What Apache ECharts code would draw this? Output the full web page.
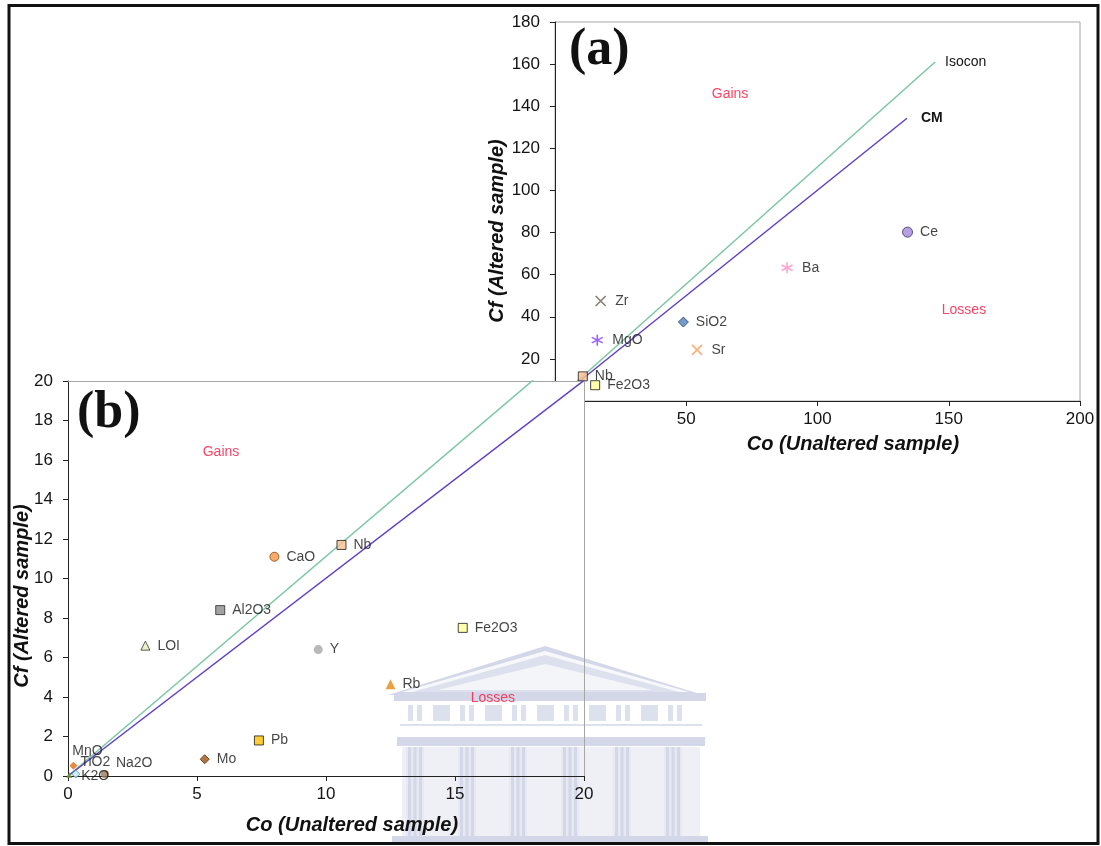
<!DOCTYPE html>
<html>
<head>
<meta charset="utf-8">
<script src="https://cdn.jsdelivr.net/npm/echarts@6/dist/echarts.min.js"></script>
<style>
  html, body { margin: 0; padding: 0; background: #fff; }
  #chart { width: 1101px; height: 846px; }
</style>
</head>
<body>
<div id="chart"></div>
<script>
// ---- Panel (a): full concentration range ----
const namesA = ['Nb', 'Fe2O3', 'MgO', 'Zr', 'SiO2', 'Sr', 'Ba', 'Ce'];
const coA    = [10.6, 15.3, 16.1, 17.4, 48.9, 54.1, 88.4, 134.3];
const cfA    = [11.7, 7.5, 28.9, 47.5, 37.5, 24.3, 63.3, 80.2];

// ---- Panel (b): low-concentration detail ----
const namesB = ['CaO', 'Nb', 'Al2O3', 'LOI', 'Y', 'Fe2O3', 'Rb', 'Pb', 'Mo', 'TiO2', 'MnO', 'K2O', 'Na2O'];
const coB    = [8.0, 10.6, 5.9, 3.0, 9.7, 15.3, 12.5, 7.4, 5.3, 0.21, 0.05, 0.3, 1.43];
const cfB    = [11.1, 11.7, 8.4, 6.6, 6.4, 7.5, 4.65, 1.8, 0.85, 0.52, 0.05, 0.1, 0.1];

// Reference lines through the origin (start and end points)
const isoconLine = [[0, 0], [144.8, 161]];
const cmLine     = [[0, 0], [134.1, 134.3]];

// Field annotations
const zoneNames = ['Gains', 'Losses'];
const zoneCoA = [66.7, 155.8];
const zoneCfA = [145.7, 43.3];
const zoneCoB = [5.93, 16.47];
const zoneCfB = [16.4, 3.95];

// Axis ticks
const xTicksA = [0, 50, 100, 150, 200];
const yTicksA = [0, 20, 40, 60, 80, 100, 120, 140, 160, 180];
const xTicksB = [0, 5, 10, 15, 20];
const yTicksB = [0, 2, 4, 6, 8, 10, 12, 14, 16, 18, 20];

// ---- marker styles ----
const X_PATH = 'path://M0,0L10,10M10,0L0,10';
const STAR_PATH = 'path://M5,0L5,10M0.67,2.5L9.33,7.5M0.67,7.5L9.33,2.5';

const styleA = {
  Nb:    { symbol: 'rect', size: 9, fill: '#fac08f', stroke: '#1a1a1a' },
  Fe2O3: { symbol: 'rect', size: 9, fill: '#ffff99', stroke: '#1a1a1a' },
  MgO:   { symbol: STAR_PATH, size: 11, line: '#7f3fff' },
  Zr:    { symbol: X_PATH, size: 10, line: '#6b5d55' },
  SiO2:  { symbol: 'diamond', size: 10, fill: '#4f81bd', stroke: '#24406a' },
  Sr:    { symbol: X_PATH, size: 10, line: '#ff9955' },
  Ba:    { symbol: STAR_PATH, size: 11, line: '#ff8fc4' },
  Ce:    { symbol: 'circle', size: 10, fill: '#a28ad8', stroke: '#3c2a6a' }
};

const styleB = {
  CaO:   { symbol: 'circle', size: 9, fill: '#f79646', stroke: '#8a4a10' },
  Nb:    { symbol: 'rect', size: 9, fill: '#fac08f', stroke: '#1a1a1a' },
  Al2O3: { symbol: 'rect', size: 9, fill: '#8c8c8c', stroke: '#2a2a2a' },
  LOI:   { symbol: 'triangle', size: 9, fill: '#e8efb8', stroke: '#333' },
  Y:     { symbol: 'circle', size: 9, fill: '#a6a6a6' },
  Fe2O3: { symbol: 'rect', size: 9, fill: '#ffff99', stroke: '#1a1a1a' },
  Rb:    { symbol: 'triangle', size: 10, fill: '#e38a17' },
  Pb:    { symbol: 'rect', size: 9, fill: '#ffc000', stroke: '#1a1a1a' },
  Mo:    { symbol: 'diamond', size: 9, fill: '#9c5514', stroke: '#5a2e08' },
  TiO2:  { symbol: 'diamond', size: 8, fill: '#e36c0a', label: { distance: 3, offset: [0, -4] } },
  MnO:   { symbol: 'triangle', size: 6, fill: '#77933c', label: { distance: 0, offset: [0, -24] } },
  K2O:   { symbol: 'diamond', size: 8, fill: '#c4ecf5', stroke: '#4a90a0', label: { distance: 1, offset: [0, 2] } },
  Na2O:  { symbol: 'circle', size: 8, fill: '#9a7b5a', label: { distance: 7, offset: [0, -11] } }
};

const FONT = 'Liberation Sans, Arial, sans-serif';
const TEXT = '#141414';
const RED = '#f5143f';
const FRAME_GREY = '#a6a6a6';

function buildItems(names, co, cf, styles) {
  return names.map((n, i) => {
    const s = styles[n];
    const item = { name: n, value: [co[i], cf[i]], symbol: s.symbol, symbolSize: s.size };
    if (s.line) {
      item.itemStyle = { color: 'none', borderColor: s.line, borderWidth: 1.6 };
    } else {
      item.itemStyle = { color: s.fill, borderColor: s.stroke || s.fill, borderWidth: s.stroke ? 1 : 0 };
    }
    if (s.label) item.label = s.label;
    return item;
  });
}

function zoneItems(co, cf) {
  return zoneNames.map((n, i) => ({ name: n, value: [co[i], cf[i]] }));
}

function axis(gridIndex, ticks, z, isX) {
  return {
    type: 'value',
    gridIndex: gridIndex,
    z: z,
    min: ticks[0],
    max: ticks[ticks.length - 1],
    interval: ticks[1] - ticks[0],
    axisLine: { show: true, onZero: false, lineStyle: { color: '#222', width: 1 } },
    axisTick: { show: true, inside: false, length: 5, lineStyle: { color: '#222' } },
    axisLabel: { fontFamily: FONT, fontSize: 17, color: TEXT, margin: isX ? 10 : 15 },
    splitLine: { show: false }
  };
}

// plain grey edge on the far side of panel (b), kept above the emblem
function edgeAxis(gridIndex, ticks, pos, z) {
  return {
    type: 'value', gridIndex: gridIndex, position: pos, z: z,
    min: ticks[0], max: ticks[ticks.length - 1],
    axisLine: { show: true, onZero: false, lineStyle: { color: FRAME_GREY, width: 1 } },
    axisTick: { show: false }, axisLabel: { show: false }, splitLine: { show: false }
  };
}

const pointLabel = {
  show: true, position: 'right', distance: 7, formatter: '{b}',
  fontFamily: FONT, fontSize: 14, color: TEXT
};

const zoneLabel = {
  show: true, position: 'inside', formatter: '{b}',
  fontFamily: FONT, fontSize: 14, color: RED
};

function refLine(data, color, z, gi, endText, dist, bold) {
  const s = {
    type: 'line', xAxisIndex: gi, yAxisIndex: gi, z: z, data: data,
    showSymbol: false, symbol: 'none', silent: true, clip: true,
    lineStyle: { color: color, width: 1.5 }, animation: false
  };
  if (endText) {
    s.endLabel = {
      show: true, formatter: endText, distance: dist,
      fontFamily: FONT, fontSize: 14, color: TEXT, fontWeight: bold ? 'bold' : 'normal'
    };
  }
  return s;
}

// ---- faint building emblem in the lower middle ----
function emblem() {
  const dark = '#d3d7e7', mid = '#dde0ed', light = '#eef0f6', colBg = '#e6e8f2';
  const els = [];
  const poly = (pts, fill) => els.push({ type: 'polygon', shape: { points: pts }, style: { fill: fill } });
  const rect = (x, y, w, h, fill) => els.push({ type: 'rect', shape: { x: x, y: y, width: w, height: h }, style: { fill: fill } });
  poly([[388, 695], [545, 646], [703, 695]], dark);
  poly([[402, 692], [545, 651], [689, 692]], '#f7f8fb');
  poly([[412, 692], [545, 655], [679, 692]], mid);
  poly([[438, 690], [545, 664], [652, 690]], '#f4f5f9');
  rect(394, 693, 312, 8, dark);
  for (let k = 0; k < 6; k++) {
    const x = 408 + 52 * k;
    rect(x, 705, 5, 16, mid);
    rect(x + 9, 705, 5, 16, mid);
    if (k < 5) rect(433 + 52 * k, 705, 17, 16, mid);
  }
  rect(400, 724, 302, 2, mid);
  rect(397, 737, 308, 9, dark);
  rect(402, 747, 298, 89, light);
  const cols = [415, 467, 518, 570, 622, 673];
  cols.forEach(cx => {
    rect(cx - 9, 747, 18, 89, colBg);
    rect(cx - 7, 747, 3, 89, dark);
    rect(cx - 1.5, 747, 3, 89, dark);
    rect(cx + 4, 747, 3, 89, dark);
  });
  rect(392, 836, 316, 8, dark);
  els.forEach(e => { e.z = 3.5; e.silent = true; });
  return els;
}

const titleFont = 'italic bold 20px ' + FONT;

const chart = echarts.init(document.getElementById('chart'), null, { renderer: 'canvas' });
chart.setOption({
  animation: false,
  backgroundColor: '#ffffff',
  grid: [
    { left: 555, top: 22, width: 525, height: 379, show: true, z: 0,
      backgroundColor: '#ffffff', borderColor: FRAME_GREY, borderWidth: 1 },
    { left: 68, top: 381, width: 516, height: 395, show: true, z: 3,
      backgroundColor: '#ffffff', borderWidth: 0 }
  ],
  xAxis: [axis(0, xTicksA, 1, true), axis(1, xTicksB, 4, true), edgeAxis(1, xTicksB, 'top', 4)],
  yAxis: [axis(0, yTicksA, 1, false), axis(1, yTicksB, 4, false), edgeAxis(1, yTicksB, 'right', 4)],
  series: [
    refLine(isoconLine, '#7cc6a4', 2, 0, 'Isocon', 10, false),
    refLine(cmLine, '#6040c8', 2, 0, 'CM', 14, true),
    { type: 'scatter', xAxisIndex: 0, yAxisIndex: 0, z: 2,
      data: buildItems(namesA, coA, cfA, styleA), label: pointLabel },
    { type: 'scatter', xAxisIndex: 0, yAxisIndex: 0, z: 2, symbolSize: 0,
      data: zoneItems(zoneCoA, zoneCfA), label: zoneLabel },

    refLine(isoconLine, '#7cc6a4', 5, 1, null),
    refLine(cmLine, '#6040c8', 5, 1, null),
    { type: 'scatter', xAxisIndex: 1, yAxisIndex: 1, z: 5,
      data: buildItems(namesB, coB, cfB, styleB), label: pointLabel },
    { type: 'scatter', xAxisIndex: 1, yAxisIndex: 1, z: 5, symbolSize: 0,
      data: zoneItems(zoneCoB, zoneCfB), label: zoneLabel }
  ],
  graphic: [
    { type: 'text', z: 6, x: 569, y: 51, silent: true,
      style: { text: '(a)', font: 'bold 52px Liberation Serif, Times New Roman, serif', fill: '#111',
               align: 'left', verticalAlign: 'middle' } },
    { type: 'text', z: 6, x: 77, y: 414, silent: true,
      style: { text: '(b)', font: 'bold 52px Liberation Serif, Times New Roman, serif', fill: '#111',
               align: 'left', verticalAlign: 'middle' } },
    { type: 'text', z: 6, x: 853, y: 444, silent: true,
      style: { text: 'Co (Unaltered sample)', font: titleFont, fill: '#111', align: 'center', verticalAlign: 'middle' } },
    { type: 'text', z: 6, x: 497, y: 231, rotation: Math.PI / 2, silent: true,
      style: { text: 'Cf (Altered sample)', font: titleFont, fill: '#111', align: 'center', verticalAlign: 'middle' } },
    { type: 'text', z: 6, x: 352, y: 825, silent: true,
      style: { text: 'Co (Unaltered sample)', font: titleFont, fill: '#111', align: 'center', verticalAlign: 'middle' } },
    { type: 'text', z: 6, x: 22, y: 596, rotation: Math.PI / 2, silent: true,
      style: { text: 'Cf (Altered sample)', font: titleFont, fill: '#111', align: 'center', verticalAlign: 'middle' } },
    ...emblem(),
    { type: 'rect', z: 30, silent: true,
      shape: { x: 9, y: 5.5, width: 1089, height: 838 },
      style: { fill: 'none', stroke: '#111', lineWidth: 3 } }
  ]
});
</script>
</body>
</html>
